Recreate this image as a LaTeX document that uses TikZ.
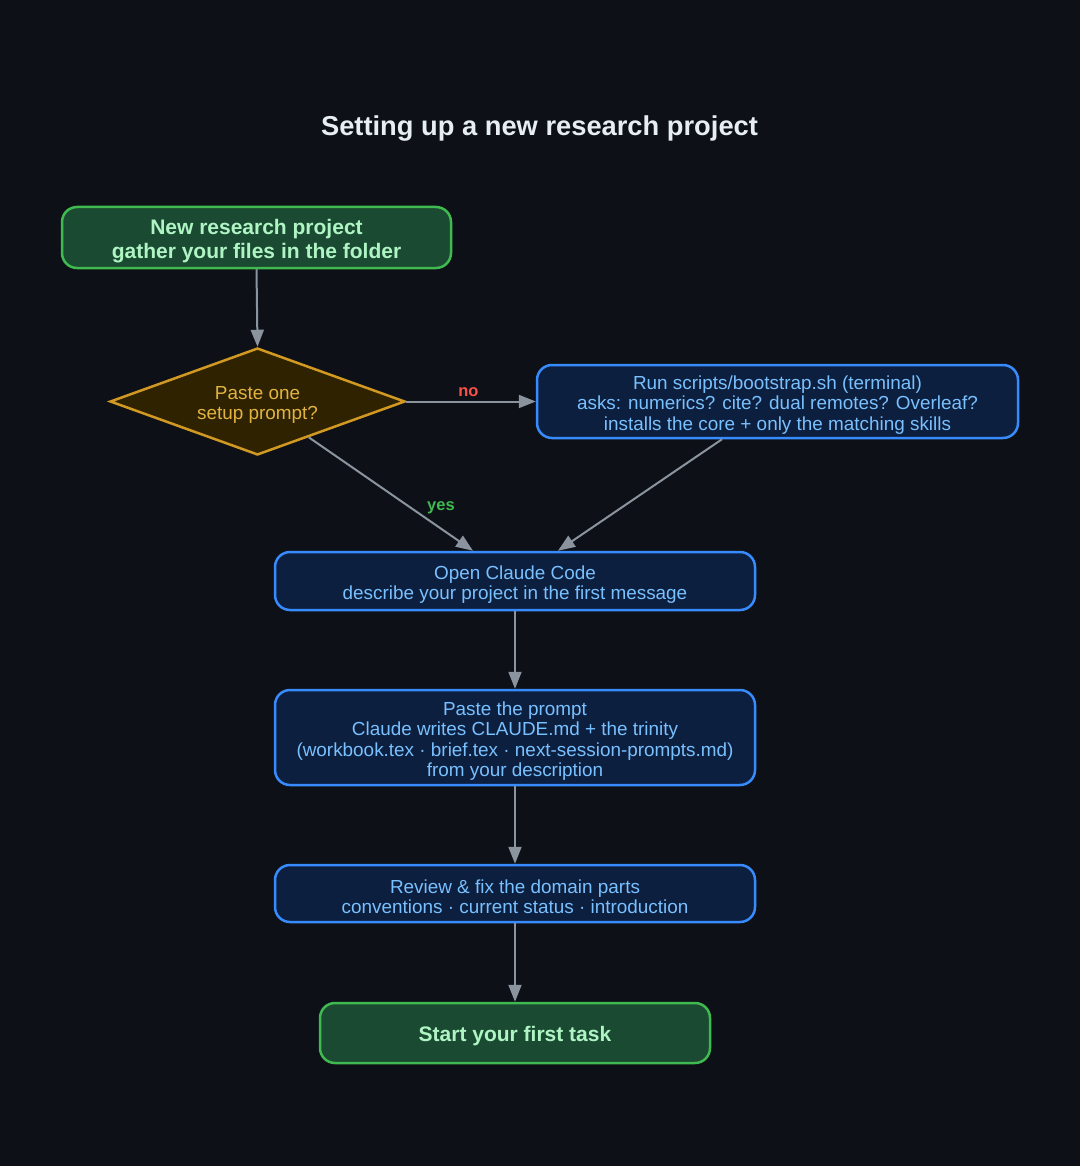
\documentclass[tikz,border=0pt]{standalone}
\usepackage{fontspec}
\setmainfont{Liberation Sans}
\usetikzlibrary{shapes.geometric,arrows.meta,calc}
\definecolor{bg}{HTML}{0D1117}
\definecolor{gfill}{HTML}{1B4A32}
\definecolor{gline}{HTML}{3FB950}
\definecolor{gtext}{HTML}{AFF5C4}
\definecolor{bfill}{HTML}{0C1F3F}
\definecolor{bline}{HTML}{388BFD}
\definecolor{btext}{HTML}{79C0FF}
\definecolor{dfill}{HTML}{2E2200}
\definecolor{dline}{HTML}{D29922}
\definecolor{dtext}{HTML}{E3B341}
\definecolor{edge}{HTML}{8B949E}
\definecolor{nocol}{HTML}{F85149}
\definecolor{title}{HTML}{E6EDF3}
\newcommand\lowr[1]{\raisebox{-3.5pt}[\height][\depth]{#1}}
\begin{document}
\begin{tikzpicture}[x=1pt,y=-1pt,
  base/.style={rounded corners=15pt, line width=2.5pt, align=center, inner sep=0pt,
    font=\fontsize{18.9}{20.3}\selectfont},
  gbox/.style={base, draw=gline, fill=gfill, text=gtext, font=\fontsize{21}{23.5}\selectfont\bfseries},
  bbox/.style={base, draw=bline, fill=bfill, text=btext},
  dec/.style={diamond, draw=dline, fill=dfill, text=dtext, line width=2.5pt, align=center,
    inner sep=0pt, aspect=2.76, minimum width=295pt, minimum height=107pt,
    font=\fontsize{18.9}{20.5}\selectfont},
  arr/.style={draw=edge, line width=2pt, -{Triangle[length=17pt,width=13pt]}},
  elabel/.style={font=\fontsize{16.5}{18}\selectfont\bfseries}
]
\fill[bg] (0,0) rectangle (1080,1166);
\useasboundingbox (0,0) rectangle (1080,1166);

\node[text=title, font=\fontsize{27.3}{30}\selectfont\bfseries] (t) at (539.5,129) {Setting up a new research project};

\node[gbox, minimum width=389pt, minimum height=61pt] (n1) at (256.5,237.5)
  {\lowr{New research project}\\\lowr{gather your files in the folder}};
\node[dec] (d) at (257.5,401.5) {\lowr{Paste one}\\\lowr{setup prompt?}};
\node[bbox, minimum width=481pt, minimum height=73pt] (n2) at (777.5,401.5)
  {\lowr{Run scripts/bootstrap.sh (terminal)}\\\lowr{asks: numerics? cite? dual remotes? Overleaf?}\\\lowr{installs the core + only the matching skills}};
\node[bbox, minimum width=480pt, minimum height=58pt] (n3) at (515,581)
  {\lowr{Open Claude Code}\\\lowr{describe your project in the first message}};
\node[bbox, minimum width=480pt, minimum height=95pt] (n4) at (515,737.5)
  {\lowr{Paste the prompt}\\\lowr{Claude writes CLAUDE.md + the trinity}\\\lowr{(workbook.tex · brief.tex · next-session-prompts.md)}\\\lowr{from your description}};
\node[bbox, minimum width=480pt, minimum height=57pt] (n5) at (515,893.5)
  {\lowr{Review \& fix the domain parts}\\\lowr{conventions · current status · introduction}};
\node[gbox, minimum width=390pt, minimum height=60pt] (n6) at (515,1033)
  {\lowr{Start your first task}};

\draw[arr] (n1.south) -- (d.north);
\draw[arr] (d.east) -- node[elabel, text=nocol, above=1pt, pos=0.48] (lno) {no} (n2.west);
\draw[arr] ($(d.east)!0.655!(d.south)$) -- ($(n3.north)+(-42,0)$);
\node[elabel, text=gline] (lyes) at (441,508) {yes};
\draw[arr] ($(n2.south)+(-55.5,0)$) -- ($(n3.north)+(43,0)$);
\draw[arr] (n3.south) -- (n4.north);
\draw[arr] (n4.south) -- (n5.north);
\draw[arr] (n5.south) -- (n6.north);
\end{tikzpicture}
\end{document}
